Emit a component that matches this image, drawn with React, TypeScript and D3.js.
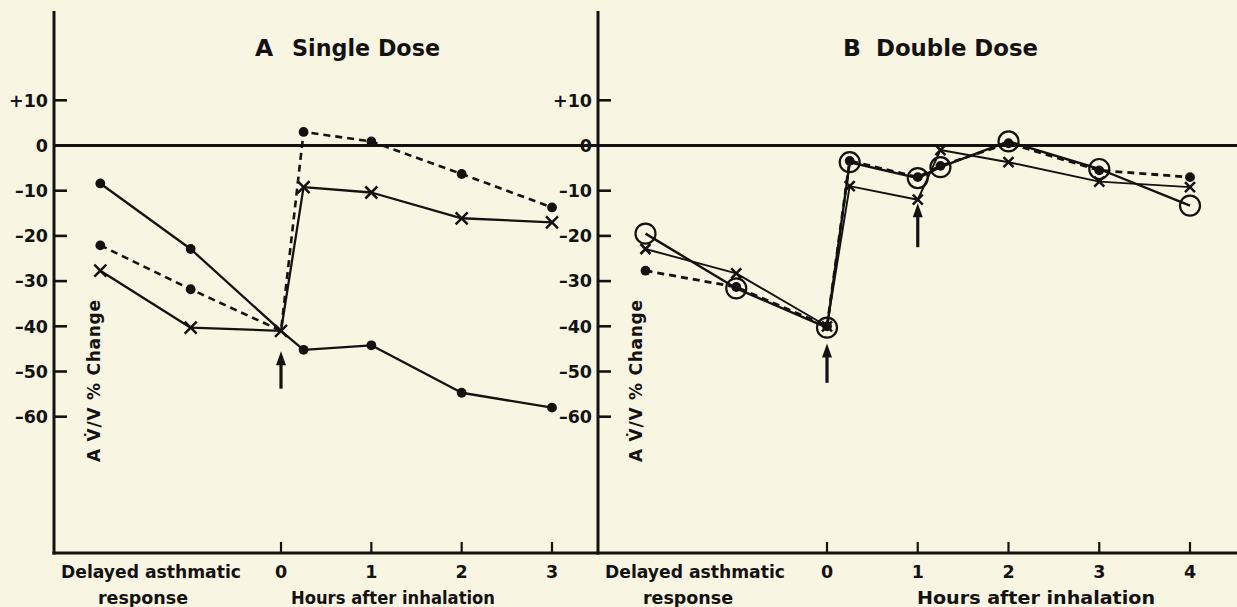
import React from "react";
import * as d3 from "d3";

const W = 1237;
const H = 607;

const yTicks = [10, 0, -10, -20, -30, -40, -50, -60];
const yTickLabels = ["+10", "0", "–10", "–20", "–30", "–40", "–50", "–60"];

// Panel A – Single dose (x: -2, -1 = delayed asthmatic response readings; then hours)
const hoursA = [-2, -1, 0, 0.25, 1, 2, 3];
const singleSolidDots = [-8.4, -22.9, -41, -45.2, -44.2, -54.7, -58];
const singleDashedDots = [-22.1, -31.8, -41, 3.0, 0.9, -6.3, -13.7];
const singleSolidCrosses = [-27.7, -40.3, -41, -9.2, -10.4, -16.1, -17];
const hourTicksA = [0, 1, 2, 3];
const arrowsA = [{ h: 0, tip: -45.5, tail: -53.8 }];

// Panel B – Double dose
const hoursB = [-2, -1, 0, 0.25, 1, 1.25, 2, 3, 4];
const doubleSolidCircles = [-19.5, -31.6, -40.3, -3.7, -7.2, -4.8, 0.9, -5.2, -13.3];
const doubleDashedDots = [-27.7, -31.3, -40, -3.4, -7, -4.5, 0.5, -5.5, -7];
const doubleSolidCrosses = [-22.9, -28.3, -40, -9, -12, -1, -3.7, -8, -9.2];
const hourTicksB = [0, 1, 2, 3, 4];
const arrowsB = [
  { h: 0, tip: -43.8, tail: -52.5 },
  { h: 1, tip: -12.8, tail: -22.5 },
];

const INK = "#141210";
const FONT = "'DejaVu Sans', Arial, sans-serif";

const y = d3.scaleLinear().domain([0, -60]).range([145.5, 416.7]);
const TOP = 11;
const BOTTOM = 553;

type Series = { values: number[]; dashed?: boolean; marker: "dot" | "cross" | "circle"; width: number; skipAtZero?: boolean };

function Cross({ cx, cy, s, w }: { cx: number; cy: number; s: number; w: number }) {
  return (
    <path
      d={`M${cx - s},${cy - s}L${cx + s},${cy + s}M${cx - s},${cy + s}L${cx + s},${cy - s}`}
      stroke={INK}
      strokeWidth={w}
      fill="none"
    />
  );
}

function Panel({
  axisX,
  rightX,
  x,
  hours,
  series,
  hourTicks,
  arrows,
  letter,
  letterX,
  title,
  titleX,
  delayedX,
  responseX,
  hoursLabelX,
  hoursLabelLen,
  yLabelX,
  crossSize,
}: any) {
  const line = (vals: number[]) =>
    d3
      .line<number>()
      .x((_, i) => x(hours[i]))
      .y((v) => y(v))(vals) as string;

  return (
    <g>
      {/* title */}
      <text x={letterX} y={56} fontFamily={FONT} fontWeight="bold" fontSize={23.5} fill={INK}>
        {letter}
      </text>
      <text x={titleX} y={56} fontFamily={FONT} fontWeight="bold" fontSize={23.5} fill={INK}
        textLength={title === "Single Dose" ? 148 : 162} lengthAdjust="spacingAndGlyphs">
        {title}
      </text>

      {/* y axis */}
      <line x1={axisX} x2={axisX} y1={TOP} y2={BOTTOM + 1.5} stroke={INK} strokeWidth={3} />
      {yTicks.map((t, i) => (
        <g key={t}>
          {t !== 0 && (
            <line x1={axisX} x2={axisX + 13} y1={y(t)} y2={y(t)} stroke={INK} strokeWidth={2.6} />
          )}
          <text
            x={axisX - 6}
            y={y(t)}
            dy="0.36em"
            textAnchor="end"
            fontFamily={FONT}
            fontWeight="bold"
            fontSize={17.5}
            fill={INK}
          >
            {yTickLabels[i]}
          </text>
        </g>
      ))}

      {/* zero line */}
      <line x1={axisX} x2={rightX} y1={y(0)} y2={y(0)} stroke={INK} strokeWidth={3} />

      {/* x axis */}
      <line x1={axisX - 1.5} x2={rightX} y1={BOTTOM} y2={BOTTOM} stroke={INK} strokeWidth={3} />
      {hourTicks.map((h: number) => (
        <g key={h}>
          <line x1={x(h)} x2={x(h)} y1={BOTTOM} y2={BOTTOM - 11} stroke={INK} strokeWidth={2.2} />
          <text
            x={x(h)}
            y={578}
            textAnchor="middle"
            fontFamily={FONT}
            fontWeight="bold"
            fontSize={17.5}
            fill={INK}
          >
            {h}
          </text>
        </g>
      ))}
      <text x={delayedX} y={578} textAnchor="middle" fontFamily={FONT} fontWeight="bold" fontSize={17.5} fill={INK}
        textLength={180} lengthAdjust="spacingAndGlyphs">
        Delayed asthmatic
      </text>
      <text x={responseX} y={604} textAnchor="middle" fontFamily={FONT} fontWeight="bold" fontSize={17.5} fill={INK}>
        response
      </text>
      <text
        x={hoursLabelX}
        y={604}
        fontFamily={FONT}
        fontWeight="bold"
        fontSize={17.5}
        fill={INK}
        textLength={hoursLabelLen}
        lengthAdjust="spacingAndGlyphs"
      >
        Hours after inhalation
      </text>

      {/* y label */}
      <text
        transform={`translate(${yLabelX},462) rotate(-90)`}
        fontFamily={FONT}
        fontWeight="bold"
        fontSize={17}
        fill={INK}
        textLength={162}
        lengthAdjust="spacing"
      >
        A V̇/V % Change
      </text>

      {/* series lines */}
      {series.map((s: Series, k: number) => (
        <path
          key={k}
          d={line(s.values)}
          fill="none"
          stroke={INK}
          strokeWidth={s.width}
          strokeDasharray={s.dashed ? "7 5" : undefined}
          strokeLinejoin="round"
        />
      ))}

      {/* markers */}
      {series.map((s: Series, k: number) =>
        s.values.map((v, i) => {
          const cx = x(hours[i]);
          const cy = y(v);
          if (s.skipAtZero && hours[i] === 0) return null;
          if (s.marker === "dot") return <circle key={`${k}-${i}`} cx={cx} cy={cy} r={4.9} fill={INK} />;
          if (s.marker === "circle")
            return <circle key={`${k}-${i}`} cx={cx} cy={cy} r={10} fill="none" stroke={INK} strokeWidth={2.2} />;
          return <Cross key={`${k}-${i}`} cx={cx} cy={cy} s={crossSize} w={2.5} />;
        })
      )}

      {/* arrows */}
      {arrows.map((a: any, i: number) => {
        const ax = x(a.h);
        const tipY = y(a.tip);
        const tailY = y(a.tail);
        return (
          <g key={i}>
            <line x1={ax} x2={ax} y1={tipY + 8} y2={tailY} stroke={INK} strokeWidth={3.2} />
            <path d={`M${ax},${tipY}L${ax - 5},${tipY + 14}L${ax + 5},${tipY + 14}Z`} fill={INK} />
          </g>
        );
      })}
    </g>
  );
}

export default function App() {
  const xA = d3.scaleLinear().domain([0, 3]).range([281, 552]);
  const xB = d3.scaleLinear().domain([0, 4]).range([827, 1190]);

  const seriesA: Series[] = [
    { values: singleSolidDots, marker: "dot", width: 2.3, skipAtZero: true },
    { values: singleDashedDots, marker: "dot", width: 2.6, dashed: true, skipAtZero: true },
    { values: singleSolidCrosses, marker: "cross", width: 2.3 },
  ];
  const seriesB: Series[] = [
    { values: doubleDashedDots, marker: "dot", width: 2.8, dashed: true },
    { values: doubleSolidCrosses, marker: "cross", width: 1.9 },
    { values: doubleSolidCircles, marker: "circle", width: 2.4 },
  ];

  return (
    <svg
      width={W}
      height={H}
      viewBox={`0 0 ${W} ${H}`}
      style={{ position: "absolute", left: 0, top: 0, display: "block" }}
    >
      <rect x={0} y={0} width={W} height={H} fill="#f8f5e3" />
      <Panel
        axisX={54}
        rightX={598}
        x={xA}
        hours={hoursA}
        series={seriesA}
        hourTicks={hourTicksA}
        arrows={arrowsA}
        letter="A"
        letterX={255}
        title="Single Dose"
        titleX={292}
        delayedX={151}
        responseX={143}
        hoursLabelX={291}
        hoursLabelLen={204}
        yLabelX={100}
        crossSize={6}
      />
      <Panel
        axisX={598}
        rightX={W}
        x={xB}
        hours={hoursB}
        series={seriesB}
        hourTicks={hourTicksB}
        arrows={arrowsB}
        letter="B"
        letterX={843}
        title="Double Dose"
        titleX={876}
        delayedX={695}
        responseX={688}
        hoursLabelX={917}
        hoursLabelLen={238}
        yLabelX={642}
        crossSize={5}
      />
    </svg>
  );
}
